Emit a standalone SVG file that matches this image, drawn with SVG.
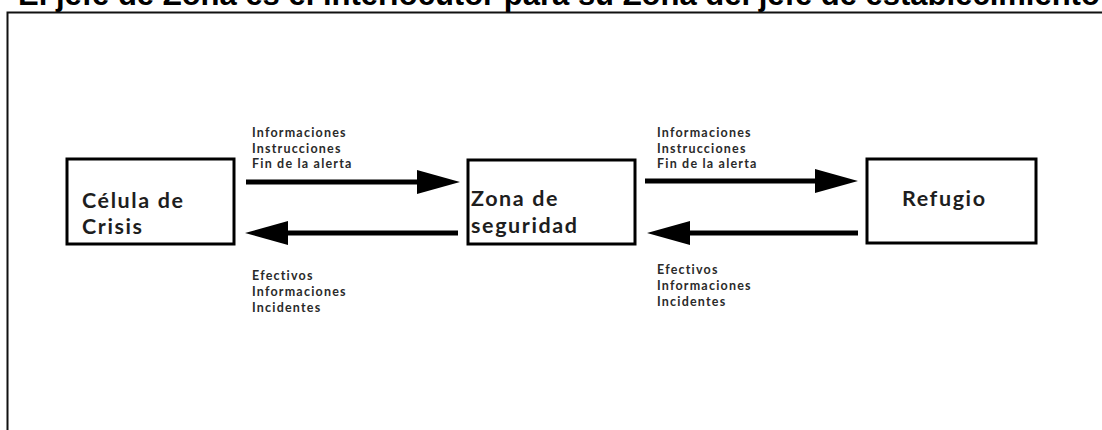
<svg xmlns="http://www.w3.org/2000/svg" width="1102" height="430" viewBox="0 0 1102 430">
<style>
.title{font-family:"Liberation Sans",Arial,sans-serif;font-weight:bold;font-size:31px;fill:#000}
.box{fill:#fff;stroke:#000;stroke-width:3}
.lbl{font-family:Lato,"Open Sans",sans-serif;font-weight:bold;font-size:21.5px;letter-spacing:1.6px;fill:#1e1e1e}
.sm{font-family:Lato,"Open Sans",sans-serif;font-weight:bold;font-size:12.5px;letter-spacing:1.2px;fill:#2a2a2a}
.arr{fill:none;stroke:#000;stroke-width:5}
</style>
<defs>
<marker id="head" viewBox="0 0 43 24" refX="23" refY="12" markerWidth="43" markerHeight="24" markerUnits="userSpaceOnUse" orient="auto">
<path d="M0,0 L43,12 L0,24 Z" fill="#000"/>
</marker>
</defs>
<rect width="1102" height="430" fill="#fff"/>
<text class="title" x="18" y="5">El jefe de Zona es el interlocutor para su Zona del jefe de establecimiento</text>
<rect x="7.5" y="12.5" width="1200" height="500" fill="none" stroke="#111" stroke-width="2"/>
<g id="connectors">
<path class="arr" d="M246,182 H440" marker-end="url(#head)"/>
<path class="arr" d="M458,233 H265" marker-end="url(#head)"/>
<path class="arr" d="M645,181 H838" marker-end="url(#head)"/>
<path class="arr" d="M858,233 H667" marker-end="url(#head)"/>
<g id="label-cz-top">
<text class="sm" x="252" y="137">Informaciones</text>
<text class="sm" x="252" y="153">Instrucciones</text>
<text class="sm" x="252" y="168">Fin de la alerta</text>
</g>
<g id="label-cz-bottom">
<text class="sm" x="252" y="280">Efectivos</text>
<text class="sm" x="252" y="296">Informaciones</text>
<text class="sm" x="252" y="312">Incidentes</text>
</g>
<g id="label-zr-top">
<text class="sm" x="657" y="137">Informaciones</text>
<text class="sm" x="657" y="153">Instrucciones</text>
<text class="sm" x="657" y="168">Fin de la alerta</text>
</g>
<g id="label-zr-bottom">
<text class="sm" x="657" y="274">Efectivos</text>
<text class="sm" x="657" y="290">Informaciones</text>
<text class="sm" x="657" y="306">Incidentes</text>
</g>
</g>
<g id="celula">
<rect class="box" x="67" y="159" width="167" height="85"/>
<text class="lbl" x="82" y="208">Célula de</text>
<text class="lbl" x="82" y="234">Crisis</text>
</g>
<g id="zona">
<rect class="box" x="468" y="160" width="167" height="84"/>
<text class="lbl" x="471" y="206">Zona de</text>
<text class="lbl" x="471" y="233">seguridad</text>
</g>
<g id="refugio">
<rect class="box" x="867" y="159" width="169" height="84"/>
<text class="lbl" x="902" y="206">Refugio</text>
</g>
</svg>
